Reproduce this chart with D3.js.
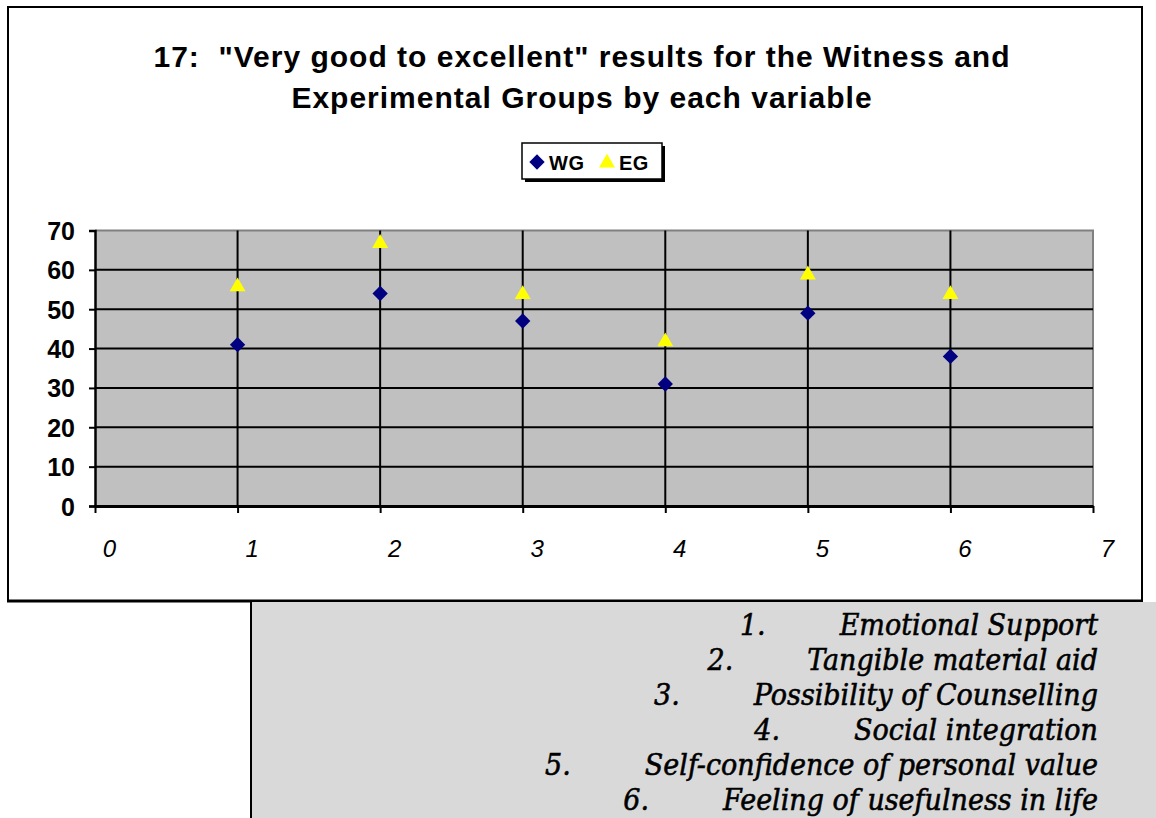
<!DOCTYPE html>
<html><head><meta charset="utf-8">
<script src="https://cdn.jsdelivr.net/npm/d3@7"></script>
<style>body{margin:0;background:#fff;}svg{display:block;}text{white-space:pre;}</style>
</head><body>
<script>
const categories = [1, 2, 3, 4, 5, 6];
const wgValues = [41, 54, 47, 31, 49, 38];
const egValues = [56, 67, 54, 42, 59, 54];
const xTicks = [0, 1, 2, 3, 4, 5, 6, 7];
const yTicks = [0, 10, 20, 30, 40, 50, 60, 70];
const variableNames = ["Emotional Support", "Tangible material aid", "Possibility of Counselling",
  "Social integration", "Self-confidence of personal value", "Feeling of usefulness in life"];
const titleLines = ['17:  "Very good to excellent" results for the Witness and', 'Experimental Groups by each variable'];
const seriesNames = ["WG", "EG"];

const W = 1156, H = 818;
const svg = d3.select("body").append("svg").attr("width", W).attr("height", H);

// chart frame
svg.append("rect").attr("x", 8).attr("y", 7).attr("width", 1134).attr("height", 594)
  .attr("fill", "#fff").attr("stroke", "#000").attr("stroke-width", 2);
svg.append("line").attr("x1", 7).attr("x2", 1143).attr("y1", 601).attr("y2", 601)
  .attr("stroke", "#000").attr("stroke-width", 3);

// title
svg.append("g").selectAll("text").data(titleLines).join("text")
  .attr("x", 582).attr("y", (d, i) => 67 + i * 41)
  .attr("text-anchor", "middle").attr("font-family", "Liberation Sans, Arial, sans-serif")
  .attr("font-weight", "bold").attr("font-size", 30).attr("letter-spacing", 1).text(d => d);

// scales
const x = d3.scaleLinear().domain([0, 7]).range([95, 1093]);
const y = d3.scaleLinear().domain([0, 70]).range([506, 230.5]);

// plot area
svg.append("rect").attr("x", x(0)).attr("y", y(70)).attr("width", x(7) - x(0)).attr("height", y(0) - y(70))
  .attr("fill", "#c0c0c0");
svg.append("path").attr("d", `M${x(0)},${y(70)}H${x(7)}V${y(0)}`).attr("fill", "none")
  .attr("stroke", "#808080").attr("stroke-width", 2);

// horizontal grid
svg.append("g").selectAll("line").data(yTicks.filter(v => v > 0 && v < 70)).join("line")
  .attr("x1", x(0)).attr("x2", x(7)).attr("y1", d => y(d)).attr("y2", d => y(d))
  .attr("stroke", "#000").attr("stroke-width", 2);
// vertical grid
svg.append("g").selectAll("line").data(xTicks.filter(v => v > 0 && v < 7)).join("line")
  .attr("x1", d => x(d)).attr("x2", d => x(d)).attr("y1", y(70)).attr("y2", y(0))
  .attr("stroke", "#000").attr("stroke-width", 2);

// axes
const yAxis = d3.axisLeft(y).tickValues(yTicks).tickSize(6).tickPadding(14).tickFormat(d3.format("d"));
const gy = svg.append("g").attr("transform", `translate(${x(0)},0)`).call(yAxis);
gy.select(".domain").attr("stroke-width", 2.5);
gy.selectAll(".tick line").attr("stroke-width", 2);
gy.selectAll(".tick text").attr("font-family", "Liberation Sans, Arial, sans-serif")
  .attr("font-weight", "bold").attr("font-size", 25).attr("dy", "0.36em");

const xAxis = d3.axisBottom(x).tickValues(xTicks).tickSize(7).tickPadding(0).tickSizeOuter(0).tickFormat(d3.format("d"));
const gx = svg.append("g").attr("transform", `translate(0,${y(0)})`).call(xAxis);
gx.select(".domain").attr("stroke-width", 3);
gx.selectAll(".tick line").attr("stroke-width", 2);
gx.selectAll(".tick text").attr("font-family", "Liberation Sans, Arial, sans-serif")
  .attr("font-style", "italic").attr("font-size", 24).attr("dy", 0)
  .attr("y", 51).attr("x", 14);

// markers
const diamond = d3.symbol().type(d3.symbolDiamond2).size(150);
const tri = d3.symbol().type(d3.symbolTriangle).size(110);
svg.append("g").selectAll("path").data(categories).join("path")
  .attr("d", diamond).attr("transform", (d, i) => `translate(${x(d)},${y(wgValues[i])})`)
  .attr("fill", "#000080");
svg.append("g").selectAll("path").data(categories).join("path")
  .attr("d", tri).attr("transform", (d, i) => `translate(${x(d)},${y(egValues[i]) + 1})`)
  .attr("fill", "#ffff00");

// legend
const lg = svg.append("g");
lg.append("rect").attr("x", 525).attr("y", 146).attr("width", 140).attr("height", 36).attr("fill", "#000");
lg.append("rect").attr("x", 522).attr("y", 143).attr("width", 140).attr("height", 36)
  .attr("fill", "#fff").attr("stroke", "#000").attr("stroke-width", 1.5);
lg.append("path").attr("d", d3.symbol().type(d3.symbolDiamond2).size(150)).attr("transform", "translate(537,162)").attr("fill", "#000080");
lg.append("path").attr("d", d3.symbol().type(d3.symbolTriangle).size(110)).attr("transform", "translate(607,163)").attr("fill", "#ffff00");
lg.selectAll("text").data(seriesNames).join("text")
  .attr("x", (d, i) => i === 0 ? 549 : 619).attr("y", 169.5)
  .attr("font-family", "Liberation Sans, Arial, sans-serif").attr("font-weight", "bold").attr("font-size", 20)
  .attr("letter-spacing", 0.5).text(d => d);

// bottom gray note box
svg.append("rect").attr("x", 251).attr("y", 602).attr("width", W - 251).attr("height", H - 602).attr("fill", "#d9d9d9");
svg.append("line").attr("x1", 251).attr("x2", 251).attr("y1", 601).attr("y2", H).attr("stroke", "#000").attr("stroke-width", 2);

const notes = svg.append("g").attr("font-family", "DejaVu Serif Condensed, DejaVu Serif, serif")
  .attr("font-style", "italic").attr("fill", "#000").attr("stroke", "#000").attr("stroke-width", 0.55);
variableNames.forEach((name, i) => {
  const yy = 635 + i * 35;
  const t = notes.append("text").attr("x", 1098).attr("y", yy).attr("text-anchor", "end")
    .attr("font-size", 30).text(name);
  const w = t.node().getComputedTextLength();
  notes.append("text").attr("x", 1098 - w - 74).attr("y", yy).attr("text-anchor", "end")
    .attr("font-size", 30).text(categories[i] + ".");
});
</script>
</body></html>
